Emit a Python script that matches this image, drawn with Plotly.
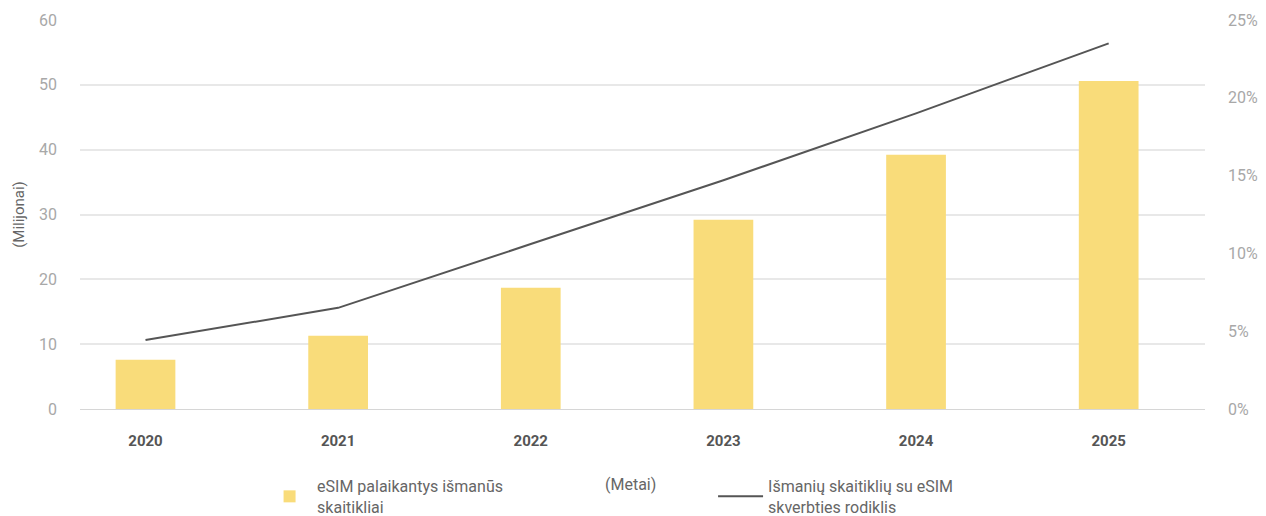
import plotly.graph_objects as go

years = ["2020", "2021", "2022", "2023", "2024", "2025"]
esim_meters = [7.6, 11.3, 18.7, 29.2, 39.2, 50.6]          # millions
penetration = [4.43, 6.5, 10.6, 14.7, 19.0, 23.5]           # percent
left_ticks = [0, 10, 20, 30, 40, 50, 60]
right_ticks = [0, 5, 10, 15, 20, 25]

FONT = "Roboto, sans-serif"

fig = go.Figure()
fig.add_trace(go.Bar(
    x=years, y=esim_meters, name="eSIM palaikantys išmanūs<br>skaitikliai",
    marker=dict(color="#F9DC7A", line=dict(width=0)), width=0.31,
))
fig.add_trace(go.Scatter(
    x=years, y=penetration, name="Išmanių skaitiklių su eSIM<br>skverbties rodiklis",
    mode="lines", line=dict(color="#555555", width=2), yaxis="y2",
))

fig.update_layout(
    width=1266, height=516,
    margin=dict(l=80, r=61, t=20, b=107),
    paper_bgcolor="white", plot_bgcolor="white",
    font=dict(family=FONT, color="#999999", size=15),
    xaxis=dict(type="category", range=[-0.34, 5.5], showgrid=False, automargin=False,
               showline=True, linecolor="#d6d6d6", linewidth=1, ticks="",
               tickfont=dict(family=FONT, size=15, color="#555555", weight="bold"),
               ticklabelstandoff=18),
    yaxis=dict(range=[0, 60], tickvals=left_ticks, gridcolor="#e8e8e8", gridwidth=1.5,
               zeroline=False, ticks="", ticklabelstandoff=22, automargin=False,
               tickfont=dict(size=16, color="#a8a8a8"),
               title=dict(text="(Milijonai)", font=dict(family=FONT, size=15, color="#666666"), standoff=10)),
    yaxis2=dict(range=[0, 25], tickvals=right_ticks, ticktext=[f"{v}%" for v in right_ticks],
                overlaying="y", side="right", showgrid=False, zeroline=False, ticks="",
                automargin=False, ticklabelstandoff=22, tickfont=dict(size=16, color="#a8a8a8")),
    legend=dict(orientation="h", xref="container", x=0.207, xanchor="left",
                yref="container", y=0.091, yanchor="top",
                font=dict(family=FONT, size=16, color="#666666"),
                entrywidth=391, entrywidthmode="pixels", itemwidth=45,
                traceorder="normal"),
    showlegend=True,
)
fig.add_annotation(text="(Metai)", xref="paper", yref="paper", x=0.4895, y=-0.165,
                   xanchor="center", yanchor="top", showarrow=False,
                   font=dict(family=FONT, size=16, color="#666666"))

fig.write_html(
    "out.html",
    config={"displayModeBar": False},
    post_script="document.body.style.margin='0';document.body.style.overflow='hidden';",
)
